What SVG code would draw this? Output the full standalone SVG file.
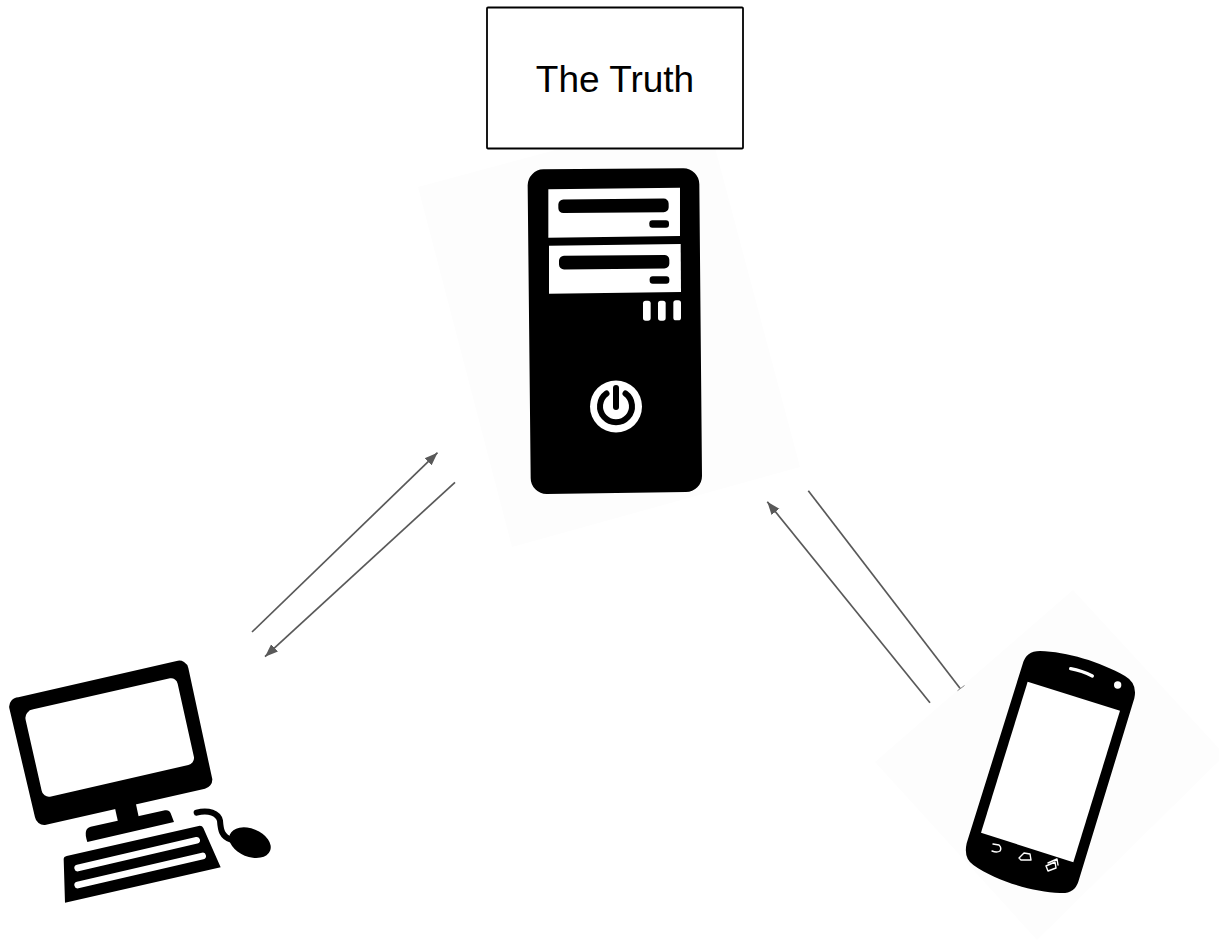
<svg xmlns="http://www.w3.org/2000/svg" width="1219" height="942" viewBox="0 0 1219 942">
<style>
.bg{fill:#fdfdfd}
.k{fill:#000}
.w{fill:#fff}
.ws{fill:none;stroke:#fff;stroke-linecap:round;stroke-linejoin:round}
.ks{fill:none;stroke:#000;stroke-linecap:round;stroke-linejoin:round}
.c{fill:none;stroke:#595959;stroke-width:1.700}
.a{marker-end:url(#arrow)}
.lbl{font-family:"Liberation Sans",Arial,sans-serif;font-size:37px;fill:#000;text-anchor:middle}
</style>
<defs>
<marker id="arrow" markerUnits="userSpaceOnUse" markerWidth="14" markerHeight="12" refX="13" refY="5" orient="auto" viewBox="0 0 14 10">
<path d="M0 0L13 5L0 10Z" fill="#595959"/>
</marker>
</defs>
<rect width="1219" height="942" fill="#fff"/>
<g id="server">
<polygon class="bg" points="705,110 800,467 512,547 418,187"/>
<g transform="translate(420 0) scale(.33333)">
<path class="k" d="M370 508L790 505A48 48 0 0 1 838 553L846 1428A48 48 0 0 1 798 1476L380 1482A48 48 0 0 1 332 1434L323 556A48 48 0 0 1 370 508Z"/>
<polygon class="w" points="385,568 780,563 780,708 385,713"/>
<polygon class="w" points="387,737 782,732 783,876 387,881"/>
<rect class="k" x="415" y="597" width="331" height="41" rx="15" transform="rotate(-.5 580 618)"/>
<rect class="k" x="688" y="661" width="59" height="22" rx="9"/>
<rect class="k" x="417" y="766" width="331" height="41" rx="15" transform="rotate(-.5 582 786)"/>
<rect class="k" x="689" y="829" width="59" height="22" rx="9"/>
<rect class="w" x="669" y="902" width="23" height="60" rx="8"/>
<rect class="w" x="714" y="902" width="23" height="60" rx="8"/>
<rect class="w" x="760" y="901" width="23" height="60" rx="8"/>
</g>
<circle class="w" cx="616" cy="406.500" r="26"/>
<path class="ks" stroke-width="6" d="M606.500 393.500A16 16 0 1 0 625.500 393.500"/>
<path class="ks" stroke-width="6" d="M616 388V407"/>
</g>
<g id="truth">
<rect x="487" y="7.500" width="256" height="141" rx="1" fill="#fff" stroke="#000" stroke-width="1.800"/>
<text class="lbl" x="615" y="92">The Truth</text>
</g>
<g id="computer" transform="translate(0 640) scale(.33333)">
<path class="k" d="M55 172L530 63A28 28 0 0 1 565 84L637 418A28 28 0 0 1 615 446L135 555A28 28 0 0 1 105 532L28 205A28 28 0 0 1 55 172Z"/>
<path class="w" d="M100 208L510 115A20 20 0 0 1 533 131L582 352A22 22 0 0 1 565 375L150 470A22 22 0 0 1 125 452L77 240A26 26 0 0 1 100 208Z"/>
<polygon class="k" points="345,505 407,488 416,530 355,550"/>
<path class="k" d="M272 560L495 511Q508 509 512 520L522 546L262 606Q255 585 258 574Q260 563 272 560Z"/>
<path class="k" d="M200 648L596 558Q606 556 610 564L662 682L195 788L191 656Q191 650 200 648Z"/>
<path class="ws" stroke-width="20" d="M233 684L590 601"/>
<path class="ws" stroke-width="20" d="M233 735L608 648"/>
<ellipse class="k" cx="750" cy="608" rx="65" ry="42" transform="rotate(22 750 608)"/>
<path class="ks" stroke-width="18" d="M590 518C625 508 655 520 660 542C662 570 665 590 695 600"/>
</g>
<g id="phone">
<polygon class="bg" points="1073,590 1225,755 1037,940 875,762"/>
<g transform="translate(870 580) scale(.33333)">
<path class="k" d="M458 252Q468 213 510 213C590 215 690 245 765 288Q803 310 793 355L625 905Q613 942 570 939C490 935 380 905 310 855Q280 835 290 790Z"/>
<polygon class="w" points="473,305 750,392 610,847 333,758"/>
<path class="ws" stroke-width="10" d="M602 266Q636 272 667 288"/>
<circle class="w" cx="743" cy="315" r="11"/>
</g>
<g transform="translate(975 825)" fill="none" stroke="#fff" stroke-width="1.400" stroke-linejoin="round" stroke-linecap="round">
<path d="M18 19L24 20Q27 23 25 26Q22 28 17 26"/>
<path d="M44 33L49 28L55 29L56 35L46 35Z"/>
<path d="M71 41L80 37L81 43L73 46Z"/>
<path d="M73 38L82 34L83 40"/>
</g>
</g>
<g id="connectors">
<path class="c a" d="M252 632L437.500 452.700"/>
<path class="c a" d="M455 482.300L265 656.700"/>
<path class="c a" d="M930 702.700L767.300 501.700"/>
<path class="c" d="M808.300 490.700L960 688.300"/>
<path d="M957.500 690.700L964.500 685.500" fill="none" stroke="#595959" stroke-width=".7"/>
</g>
</svg>
